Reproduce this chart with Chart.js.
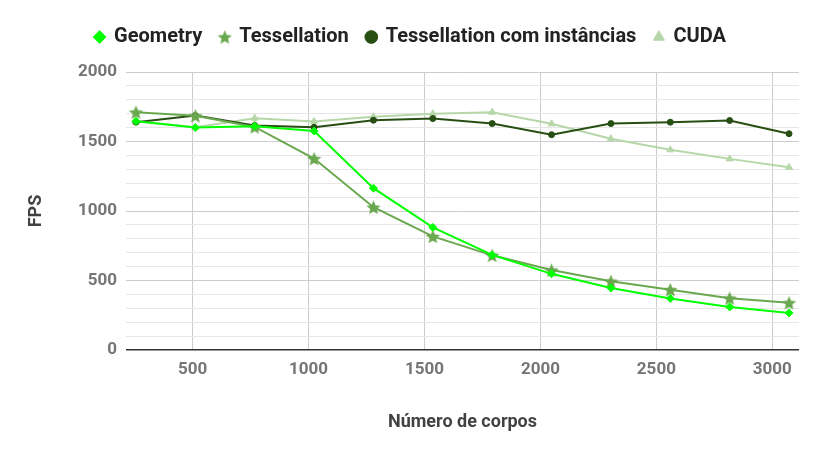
<!DOCTYPE html>
<html>
<head>
<meta charset="utf-8">
<script src="https://cdn.jsdelivr.net/npm/chart.js@4.4.1/dist/chart.umd.min.js"></script>
<style>
  html, body { margin: 0; padding: 0; background: #fff; }
  #wrap { width: 822px; height: 456px; }
</style>
</head>
<body>
<div id="wrap"><canvas id="myChart" width="822" height="456"></canvas></div>
<script>
const corpos = [256, 512, 768, 1024, 1280, 1536, 1792, 2048, 2304, 2560, 2816, 3072];
const geometry = [1645, 1600, 1610, 1575, 1164, 882, 684, 548, 446, 371, 310, 267];
const tessellation = [1711, 1685, 1605, 1377, 1027, 817, 681, 575, 495, 434, 373, 340];
const tessInstancias = [1639, 1687, 1615, 1602, 1653, 1665, 1629, 1549, 1629, 1639, 1651, 1556];
const cuda = [1645, 1602, 1668, 1644, 1678, 1700, 1711, 1627, 1520, 1440, 1375, 1314];
const xTicks = [500, 1000, 1500, 2000, 2500, 3000];
const yLabels = [0, 500, 1000, 1500, 2000];

const pts = arr => arr.map((v, i) => ({x: corpos[i], y: v}));

// filled five point star (chart.js 'star' is only an asterisk)
function starImage(size, color) {
  const c = document.createElement('canvas');
  c.width = size; c.height = size;
  const g = c.getContext('2d');
  const cx = size / 2, cy = size / 2 + size * 0.05;
  const R = size / 2, r = R * 0.45;
  g.beginPath();
  for (let i = 0; i < 10; i++) {
    const rad = i % 2 === 0 ? R : r;
    const a = -Math.PI / 2 + i * Math.PI / 5;
    g.lineTo(cx + rad * Math.cos(a), cy + rad * Math.sin(a));
  }
  g.closePath();
  g.fillStyle = color;
  g.fill();
  return c;
}

function serie(label, values, color, style, radius) {
  return {
    label: label,
    data: pts(values),
    borderColor: color,
    backgroundColor: color,
    pointStyle: style,
    pointRadius: radius,
    pointHoverRadius: radius,
    pointBorderWidth: 1,
    borderWidth: 2,
    tension: 0
  };
}

const ctx = document.getElementById("myChart").getContext('2d');
const font = 'Roboto';

const legendMargin = {
  id: 'legendMargin',
  beforeInit(chart) {
    const fit = chart.legend.fit;
    chart.legend.fit = function () {
      fit.bind(chart.legend)();
      this.height += 15;
    };
  }
};

const myChart = new Chart(ctx, {
  type: 'line',
  data: {
    datasets: [
      serie('Geometry', geometry, '#00ff00', 'rectRot', 4),
      serie('Tessellation', tessellation, '#6aa84f', starImage(15, '#6aa84f'), 6),
      serie('Tessellation com instâncias', tessInstancias, '#274e13', 'circle', 3),
      serie('CUDA', cuda, '#b6d7a8', 'triangle', 4)
    ]
  },
  options: {
    responsive: false,
    animation: false,
    layout: { padding: { left: 22, right: 23, top: 9, bottom: 19 } },
    plugins: {
      tooltip: { enabled: false },
      legend: {
        position: 'top',
        labels: {
          usePointStyle: true,
          boxWidth: 9,
          boxHeight: 9,
          padding: 18,
          color: '#222',
          font: { family: font, size: 20, weight: 'bold' }
        }
      }
    },
    scales: {
      x: {
        type: 'linear',
        min: 213,
        max: 3115,
        afterBuildTicks: axis => { axis.ticks = xTicks.map(v => ({value: v})); },
        grid: { color: '#cccccc', drawTicks: false },
        border: { display: false },
        ticks: {
          color: '#757575',
          padding: 10,
          font: { family: font, size: 17, weight: 'bold' },
          callback: v => String(v)
        },
        title: {
          display: true,
          text: 'Número de corpos',
          color: '#424242',
          padding: { top: 21 },
          font: { family: font, size: 18, weight: 'bold' }
        }
      },
      y: {
        min: 0,
        max: 2000,
        afterFit: axis => { axis.width = 104; },
        ticks: {
          stepSize: 100,
          autoSkip: false,
          color: '#757575',
          padding: 9,
          font: { family: font, size: 17, weight: 'bold' },
          callback: v => yLabels.includes(v) ? String(v) : ''
        },
        grid: {
          drawTicks: false,
          color: c => c.tick.value === 0 ? '#333333' : (c.tick.value % 500 === 0 ? '#cccccc' : '#e6e6e6'),
          lineWidth: c => c.tick.value === 0 ? 1.5 : 1
        },
        border: { display: false },
        title: {
          display: true,
          text: 'FPS',
          color: '#424242',
          padding: { bottom: 22 },
          font: { family: font, size: 18, weight: 'bold' }
        }
      }
    }
  },
  plugins: [legendMargin]
});
</script>
</body>
</html>
